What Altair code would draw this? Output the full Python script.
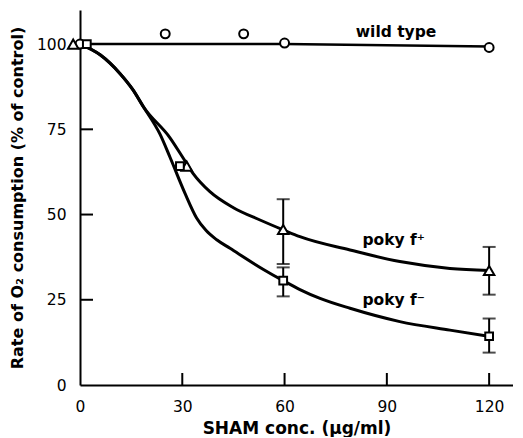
import altair as alt
import pandas as pd

# ---- data ----
# wild type
wt_x = [0, 25, 48, 60, 120]
wt_y = [100, 103, 103, 100.3, 99]
wt_line_x = [0, 60, 120]
wt_line_y = [100, 100, 99.3]

# poky f+
fp_x = [-2, 31.3, 59.6, 120]
fp_y = [100, 64.2, 45.6, 33.6]
fp_err_x = [59.6, 120]
fp_err_lo = [35.5, 26.5]
fp_err_hi = [54.5, 40.5]
fp_curve_x = [0, 6, 11.7, 15.6, 18.6, 26.4, 30.3, 33.2, 38.1, 45, 52.8, 59.6, 64.5, 79.2, 93.8, 108.5, 120]
fp_curve_y = [100, 96.8, 91.4, 86.5, 81.6, 72.5, 66.5, 62, 56.7, 52, 48.4, 45.5, 43.5, 39.6, 36.2, 34.2, 33.6]

# poky f-
fm_x = [2, 29.3, 59.6, 120]
fm_y = [100, 64.2, 30.6, 14.3]
fm_err_x = [59.6, 120]
fm_err_lo = [26, 9.5]
fm_err_hi = [34.5, 19.5]
fm_curve_x = [0, 6, 11.7, 15.6, 18.6, 23.5, 26.4, 30.8, 34.2, 37, 40.1, 44, 53.8, 59.6, 64.5, 70.4, 79.2, 93.8, 108.5, 120]
fm_curve_y = [100, 96.8, 91.4, 86.5, 81.6, 73.5, 66.8, 56.2, 49.0, 45.3, 42.6, 40.1, 33.9, 30.6, 28.0, 25.4, 22.5, 18.6, 16.1, 14.3]

# labels
lab_text = ["wild type", "poky f\u207a", "poky f\u207b"]
lab_x = [92.7, 92, 92]
lab_y = [102, 41, 23.5]

x_ticks = [0, 30, 60, 90, 120]
y_ticks = [0, 25, 50, 75, 100]

FONT = "DejaVu Sans"

xs = alt.Scale(domain=[0, 127], nice=False, zero=False)
ys = alt.Scale(domain=[0, 110], nice=False, zero=False)

X = lambda f: alt.X(f, type="quantitative", scale=xs, title="SHAM conc. (\u03bcg/ml)",
                     axis=alt.Axis(values=x_ticks, tickSize=0, labelPadding=14, grid=False,
                                   labelFlush=False, labelOverlap=False,
                                   domainColor="black", domainWidth=2,
                                   labelFont=FONT, labelFontSize=15.5, labelColor="black",
                                   titleFont=FONT, titleFontSize=17, titleFontWeight="bold",
                                   titleColor="black", titlePadding=6))
Y = lambda f: alt.Y(f, type="quantitative", scale=ys,
                     title="Rate of O\u2082 consumption (% of control)",
                     axis=alt.Axis(values=y_ticks, tickSize=0, labelPadding=14, grid=False,
                                   labelFlush=False, labelOverlap=False,
                                   domainColor="black", domainWidth=2,
                                   labelFont=FONT, labelFontSize=15.5, labelColor="black",
                                   titleFont=FONT, titleFontSize=16, titleFontWeight="bold",
                                   titleColor="black", titlePadding=11))

wt = pd.DataFrame({"x": wt_x, "y": wt_y})
wtl = pd.DataFrame({"x": wt_line_x, "y": wt_line_y})
fp = pd.DataFrame({"x": fp_x, "y": fp_y})
fpc = pd.DataFrame({"x": fp_curve_x, "y": fp_curve_y})
fm = pd.DataFrame({"x": fm_x, "y": fm_y})
fmc = pd.DataFrame({"x": fm_curve_x, "y": fm_curve_y})
err = pd.DataFrame({"x": fp_err_x + fm_err_x, "lo": fp_err_lo + fm_err_lo,
                    "hi": fp_err_hi + fm_err_hi})
caps = pd.DataFrame({"x": (fp_err_x + fm_err_x) * 2,
                     "y": fp_err_lo + fm_err_lo + fp_err_hi + fm_err_hi})
labs = pd.DataFrame({"t": lab_text, "x": lab_x, "y": lab_y})
xt = pd.DataFrame({"x": x_ticks[1:]})
yt = pd.DataFrame({"y": y_ticks[1:-1]})

wt_line = alt.Chart(wtl).mark_line(color="black", strokeWidth=2.5).encode(x=X("x"), y=Y("y"))
fp_line = alt.Chart(fpc).mark_line(color="black", strokeWidth=3, interpolate="monotone").encode(x=X("x"), y=Y("y"))
fm_line = alt.Chart(fmc).mark_line(color="black", strokeWidth=3, interpolate="monotone").encode(x=X("x"), y=Y("y"))

err_rules = alt.Chart(err).mark_rule(color="black", strokeWidth=2).encode(x=X("x"), y=Y("lo"), y2="hi")
err_caps = alt.Chart(caps).mark_tick(color="black", orient="horizontal", size=13, thickness=2).encode(x=X("x"), y=Y("y"))

xtick = alt.Chart(xt).mark_rule(color="black", strokeWidth=2).encode(
    x=X("x"), y=alt.value(375), y2=alt.value(363))
ytick = alt.Chart(yt).mark_rule(color="black", strokeWidth=2).encode(
    y=Y("y"), x=alt.value(0), x2=alt.value(13))

pt = dict(fill="white", stroke="black", strokeWidth=2, opacity=1, filled=True)
wt_pts = alt.Chart(wt).mark_point(shape="circle", size=80, **pt).encode(x=X("x"), y=Y("y"))
fp_pts = alt.Chart(fp).mark_point(shape="triangle-up", size=110, **pt).encode(x=X("x"), y=Y("y"))
fm_pts = alt.Chart(fm).mark_point(shape="square", size=60, **pt).encode(x=X("x"), y=Y("y"))

texts = alt.Chart(labs).mark_text(font=FONT, fontSize=15.5, fontWeight="bold", color="black",
                                  align="center", baseline="alphabetic").encode(
    x=X("x"), y=Y("y"), text="t")

chart = alt.layer(
    wt_line, fp_line, fm_line, err_rules, err_caps, xtick, ytick,
    wt_pts, fp_pts, fm_pts, texts
).properties(
    width=433, height=375,
    padding={"left": 72, "top": 2, "right": 0, "bottom": 52},
    autosize=alt.AutoSizeParams(type="none"),
    background="white",
).configure_view(stroke=None)

chart.save("out.html", embed_options={"renderer": "svg", "actions": False})
